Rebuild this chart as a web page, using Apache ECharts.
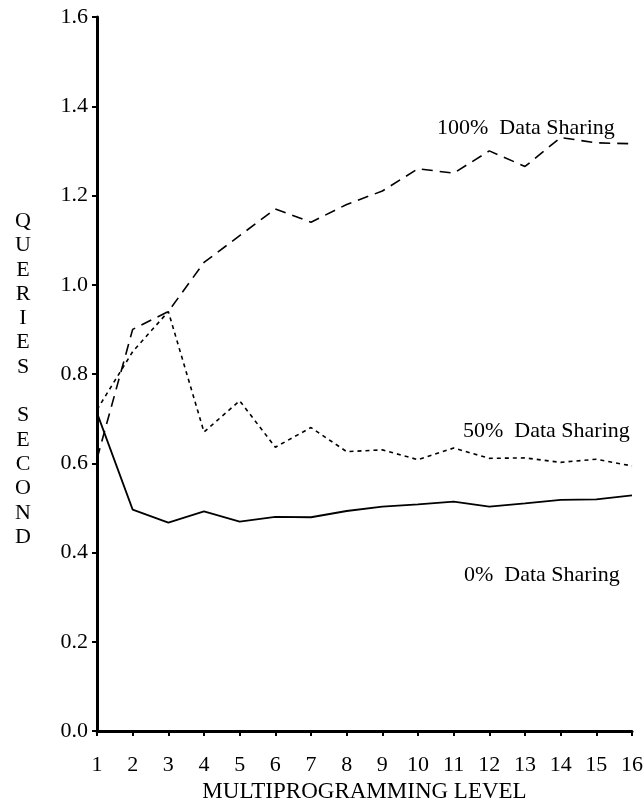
<!DOCTYPE html>
<html>
<head>
<meta charset="utf-8">
<script src="https://cdn.jsdelivr.net/npm/echarts@6/dist/echarts.min.js"></script>
<style>
  html, body { margin: 0; padding: 0; background: #fff; }
  #main { width: 644px; height: 802px; }
</style>
</head>
<body>
<div id="main"></div>
<script>
// multiprogramming level 1..16
var levels = [1, 2, 3, 4, 5, 6, 7, 8, 9, 10, 11, 12, 13, 14, 15, 16];
var share100 = [0.61, 0.90, 0.94, 1.05, 1.11, 1.17, 1.14, 1.18, 1.21, 1.26, 1.25, 1.30, 1.265, 1.33, 1.318, 1.316];
var share50 = [0.72, 0.85, 0.94, 0.67, 0.74, 0.636, 0.68, 0.626, 0.63, 0.608, 0.634, 0.611, 0.612, 0.602, 0.609, 0.594];
var share0 = [0.713, 0.496, 0.467, 0.492, 0.469, 0.48, 0.479, 0.493, 0.503, 0.508, 0.514, 0.503, 0.51, 0.518, 0.519, 0.528];
var yTitle = ['Q', 'U', 'E', 'R', 'I', 'E', 'S', '', 'S', 'E', 'C', 'O', 'N', 'D'];

function pairs(vals) {
    var out = [];
    for (var i = 0; i < levels.length; i++) {
        out.push([levels[i], vals[i]]);
    }
    return out;
}

var font = '"Liberation Serif", "DejaVu Serif", serif';
var fs = 22;
var myChart = echarts.init(document.getElementById('main'));

function label(txt, x, y) {
    return {
        type: 'text', x: x, y: y,
        style: { text: txt, font: fs + 'px ' + font, fill: '#000', verticalAlign: 'middle' }
    };
}

myChart.setOption({
    animation: false,
    backgroundColor: '#fff',
    textStyle: { fontFamily: font, color: '#000' },
    grid: {
        left: 97,
        right: 12,
        top: 17,
        bottom: 71,
        containLabel: false,
        outerBoundsMode: 'none'
    },
    xAxis: {
        type: 'value',
        min: 1,
        max: 16,
        interval: 1,
        splitLine: { show: false },
        axisLine: { lineStyle: { color: '#000', width: 3 } },
        axisTick: { length: 5, lineStyle: { color: '#000', width: 2 } },
        axisLabel: { color: '#000', fontSize: fs, fontFamily: font, margin: 23 },
        name: 'MULTIPROGRAMMING LEVEL',
        nameLocation: 'middle',
        nameGap: 45,
        nameTextStyle: { color: '#000', fontSize: 23, fontFamily: font }
    },
    yAxis: {
        type: 'value',
        min: 0,
        max: 1.6,
        interval: 0.2,
        splitLine: { show: false },
        axisLine: { show: true, lineStyle: { color: '#000', width: 3 } },
        axisTick: { show: true, length: 5, lineStyle: { color: '#000', width: 2 } },
        axisLabel: {
            color: '#000', fontSize: fs, fontFamily: font, margin: 9,
            formatter: function (v) { return v.toFixed(1); }
        }
    },
    graphic: [
        {
            type: 'text', x: 23, y: 209,
            style: {
                text: yTitle.join('\n'), font: fs + 'px ' + font, fill: '#000',
                lineHeight: 24.3, align: 'center', verticalAlign: 'top'
            }
        },
        label('100%  Data Sharing', 437, 128),
        label('50%  Data Sharing', 463, 431),
        label('0%  Data Sharing', 464, 575)
    ],
    series: [
        {
            name: '100% Data Sharing',
            type: 'line',
            data: pairs(share100),
            symbol: 'none',
            lineStyle: { color: '#000', width: 1.6, type: [11, 7] }
        },
        {
            name: '50% Data Sharing',
            type: 'line',
            data: pairs(share50),
            symbol: 'none',
            lineStyle: { color: '#000', width: 1.6, type: [4, 4] }
        },
        {
            name: '0% Data Sharing',
            type: 'line',
            data: pairs(share0),
            symbol: 'none',
            lineStyle: { color: '#000', width: 1.8 }
        }
    ]
});
</script>
</body>
</html>
